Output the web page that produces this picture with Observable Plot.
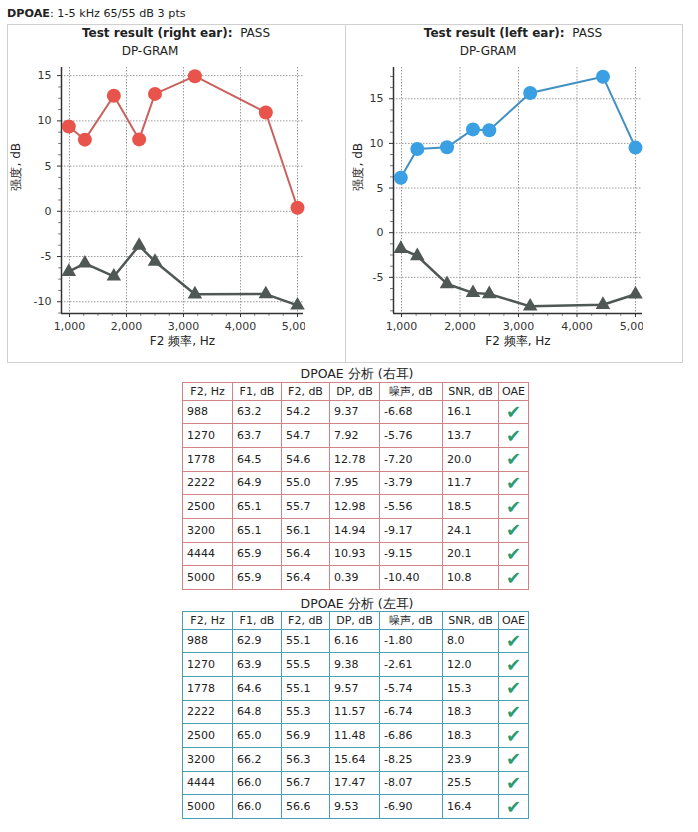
<!DOCTYPE html>
<html><head><meta charset="utf-8">
<script src="https://cdn.jsdelivr.net/npm/d3@7"></script>
<script src="https://cdn.jsdelivr.net/npm/@observablehq/plot@0.6"></script>
<style>
body{margin:0;background:#fff;font-family:"DejaVu Sans",sans-serif;color:#222;width:698px;height:832px;position:relative;overflow:hidden}
.abs{position:absolute;white-space:nowrap}
.ctr{transform:translateX(-50%)}
.panel{position:absolute;top:24px;height:339px;border:1px solid #d0d0d0;box-sizing:border-box;background:#fff}
.ptitle{font-size:12px;line-height:16px}
.chart{position:absolute;top:60px}
table{border-collapse:collapse;table-layout:fixed;font-size:11px;color:#222;position:absolute}
td,th{padding:0 0 0 4px;white-space:nowrap;overflow:hidden}
th{font-weight:normal;text-align:center;padding:0;height:16.5px}
td{height:22.7px}
td.ok{text-align:center;padding:0;color:#2b9b72;font-size:18px;line-height:18px}
.ttl{font-size:12.5px;line-height:16px}
</style></head>
<body>
<div class="abs" style="left:7px;top:6px;font-size:11.2px;line-height:16px"><b>DPOAE</b>: 1-5 kHz 65/55 dB 3 pts</div>
<div class="panel" style="left:7px;width:339px"></div>
<div class="panel" style="left:345px;width:338px"></div>
<div class="abs ctr ptitle" style="left:176px;top:25px"><b>Test result (right ear):</b>&nbsp; PASS</div>
<div class="abs ctr ptitle" style="left:150px;top:43px">DP-GRAM</div>
<div class="abs ctr ptitle" style="left:513px;top:25px"><b>Test result (left ear):</b>&nbsp; PASS</div>
<div class="abs ctr ptitle" style="left:488px;top:43px">DP-GRAM</div>
<div id="chartR" class="chart" style="left:7px"></div>
<div id="chartL" class="chart" style="left:345px"></div>
<div class="abs ctr ttl" style="left:357px;top:366px">DPOAE 分析 (右耳)</div>
<div class="abs ctr ttl" style="left:357px;top:596px">DPOAE 分析 (左耳)</div>
<div id="tables"></div>
<script>
// ---- data ----
const f2Hz = [988, 1270, 1778, 2222, 2500, 3200, 4444, 5000];
const rightF1 = [63.2, 63.7, 64.5, 64.9, 65.1, 65.1, 65.9, 65.9];
const rightF2 = [54.2, 54.7, 54.6, 55.0, 55.7, 56.1, 56.4, 56.4];
const rightDP = [9.37, 7.92, 12.78, 7.95, 12.98, 14.94, 10.93, 0.39];
const rightNoise = [-6.68, -5.76, -7.20, -3.79, -5.56, -9.17, -9.15, -10.40];
const rightSNR = [16.1, 13.7, 20.0, 11.7, 18.5, 24.1, 20.1, 10.8];
const leftF1 = [62.9, 63.9, 64.6, 64.8, 65.0, 66.2, 66.0, 66.0];
const leftF2 = [55.1, 55.5, 55.1, 55.3, 56.9, 56.3, 56.7, 56.6];
const leftDP = [6.16, 9.38, 9.57, 11.57, 11.48, 15.64, 17.47, 9.53];
const leftNoise = [-1.80, -2.61, -5.74, -6.74, -6.86, -8.25, -8.07, -6.90];
const leftSNR = [8.0, 12.0, 15.3, 18.3, 18.3, 23.9, 25.5, 16.4];
const oaePass = [true, true, true, true, true, true, true, true];
const xTicks = [1000, 2000, 3000, 4000, 5000];
const rightYTicks = [-10, -5, 0, 5, 10, 15];
const leftYTicks = [-5, 0, 5, 10, 15];
const headers = ["F2, Hz", "F1, dB", "F2, dB", "DP, dB", "噪声, dB", "SNR, dB", "OAE"];
const yLabel = "强度, dB";
const xLabel = "F2 频率, Hz";

function chart({dp, noise, xDomain, yDomain, yTicks, width, marginLeft, marginRight, labelDx, dpFill, dpStroke}) {
  const rows = f2Hz.map((f, i) => ({f, dp: dp[i], noise: noise[i]}));
  const [x0, x1] = xDomain, [y0, y1] = yDomain;
  const minorX = d3.range(1000, x1, 250).filter(v => v % 1000 !== 0);
  const minorY = d3.range(Math.ceil(y0 / 1.25) * 1.25, y1, 1.25).filter(v => Math.abs(v % 5) > 1e-9);
  return Plot.plot({
    width, height: 295, marginLeft, marginRight, marginTop: 7, marginBottom: 42,
    style: {fontFamily: "DejaVu Sans, sans-serif", fontSize: "11px", color: "#333", overflow: "hidden", background: "transparent"},
    x: {domain: xDomain, ticks: xTicks, tickFormat: d3.format(","), tickSize: 4, tickPadding: 5, label: null},
    y: {domain: yDomain, ticks: yTicks, tickFormat: d => String(d), tickSize: 4, tickPadding: 6, label: null},
    marks: [
      Plot.ruleX(xTicks, {stroke: "#9a9a9a", strokeDasharray: "1.5,1.5"}),
      Plot.ruleY(yTicks, {stroke: "#9a9a9a", strokeDasharray: "1.5,1.5"}),
      Plot.ruleX(minorX, {x: d => d, y1: y0, y2: y0 - 0.3, stroke: "#777"}),
      Plot.ruleY(minorY, {y: d => d, x1: x0, x2: x0 - 50, stroke: "#777"}),
      Plot.ruleX([x0], {stroke: "#333", strokeWidth: 1.5}),
      Plot.ruleY([y0], {stroke: "#333", strokeWidth: 1.5}),
      Plot.line(rows, {x: "f", y: "noise", stroke: "#505856", strokeWidth: 2.5}),
      Plot.dot(rows, {x: "f", y: "noise", symbol: "triangle", r: 5.4, fill: "#505856", stroke: "none"}),
      Plot.line(rows, {x: "f", y: "dp", stroke: dpStroke, strokeWidth: 2}),
      Plot.dot(rows, {x: "f", y: "dp", r: 7, fill: dpFill, stroke: "none"}),
      Plot.text([yLabel], {text: d => d, frameAnchor: "left", dx: labelDx, rotate: -90, fontSize: 12, fill: "#222"}),
      Plot.text([xLabel], {text: d => d, frameAnchor: "bottom", dy: 31, fontSize: 12, fill: "#222"})
    ]
  });
}

document.getElementById("chartR").append(chart({
  dp: rightDP, noise: rightNoise, xDomain: [860, 5105], yDomain: [-11.3, 15.9], yTicks: rightYTicks,
  width: 298, marginLeft: 54, marginRight: 2, labelDx: -45, dpFill: "#e8544c", dpStroke: "#c9625c"
}));
document.getElementById("chartL").append(chart({
  dp: leftDP, noise: leftNoise, xDomain: [863, 5120], yDomain: [-9.05, 18.5], yTicks: leftYTicks,
  width: 298, marginLeft: 48, marginRight: 1, labelDx: -35, dpFill: "#3a9fe3", dpStroke: "#4190c4"
}));

function table(top, color, f1, f2, dp, noise, snr) {
  const t = document.createElement("table");
  t.style.left = "182px"; t.style.top = top + "px";
  t.style.border = `1px solid ${color}`;
  const widths = [50, 49, 48, 50, 63, 56, 30];
  const cg = document.createElement("colgroup");
  widths.forEach(w => { const c = document.createElement("col"); c.style.width = w + "px"; cg.append(c); });
  t.append(cg);
  const hr = document.createElement("tr");
  headers.forEach(h => { const th = document.createElement("th"); th.textContent = h; th.style.border = `1px solid ${color}`; hr.append(th); });
  t.append(hr);
  f2Hz.forEach((f, i) => {
    const tr = document.createElement("tr");
    const vals = [String(f), f1[i].toFixed(1), f2[i].toFixed(1), dp[i].toFixed(2), noise[i].toFixed(2), snr[i].toFixed(1)];
    vals.forEach(v => { const td = document.createElement("td"); td.textContent = v; td.style.border = `1px solid ${color}`; tr.append(td); });
    const ok = document.createElement("td"); ok.className = "ok"; ok.textContent = oaePass[i] ? "✔" : ""; ok.style.border = `1px solid ${color}`;
    tr.append(ok);
    t.append(tr);
  });
  document.getElementById("tables").append(t);
}
table(382, "#d08487", rightF1, rightF2, rightDP, rightNoise, rightSNR);
table(611, "#4a9fb5", leftF1, leftF2, leftDP, leftNoise, leftSNR);
</script>
</body></html>
